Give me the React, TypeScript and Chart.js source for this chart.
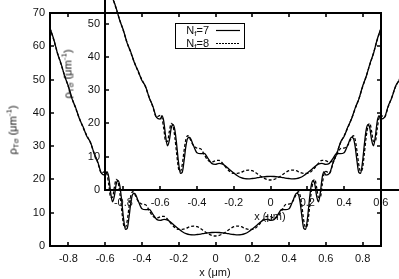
import React, { useEffect, useRef } from 'react';
import { Chart, registerables } from 'chart.js';

Chart.register(...registerables);

// positions along x (µm)
const xValues = [
  -0.90, -0.88, -0.86, -0.84, -0.82, -0.80, -0.78, -0.76, -0.74, -0.72, -0.70, -0.68, -0.66, -0.64, -0.62,
  -0.60, -0.59, -0.58, -0.57, -0.56, -0.55, -0.54, -0.53, -0.52, -0.51, -0.50, -0.49, -0.48, -0.47, -0.46, -0.45,
  -0.44, -0.42, -0.40, -0.38, -0.36, -0.34, -0.32, -0.30, -0.28, -0.26, -0.24, -0.22, -0.20, -0.18, -0.16, -0.14,
  -0.12, -0.10, -0.08, -0.06, -0.04, -0.02,
  0,
  0.02, 0.04, 0.06, 0.08, 0.10, 0.12, 0.14, 0.16, 0.18, 0.20, 0.22, 0.24, 0.26, 0.28, 0.30, 0.32, 0.34, 0.36,
  0.38, 0.40, 0.42, 0.44,
  0.45, 0.46, 0.47, 0.48, 0.49, 0.50, 0.51, 0.52, 0.53, 0.54, 0.55, 0.56, 0.57, 0.58, 0.59, 0.60,
  0.62, 0.64, 0.66, 0.68, 0.70, 0.72, 0.74, 0.76, 0.78, 0.80, 0.82, 0.84, 0.86, 0.88, 0.90,
];

// N_f = 7 (solid)
const densityN7 = [
  65.4, 62.2, 58.0, 54.8, 51.0, 48.0, 44.2, 41.5, 38.2, 35.8, 33.0, 31.2, 27.8, 25.2, 21.8,
  21.3, 22.3, 20.5, 16.0, 13.3, 15.0, 18.6, 19.6, 18.0, 13.5, 8.2, 5.0, 5.3, 8.8, 13.2, 15.6,
  15.8, 13.5, 11.2, 10.9, 11.0, 9.5, 8.0, 7.7, 8.0, 7.8, 7.0, 6.0, 5.1, 4.3, 3.7, 3.4,
  3.35, 3.45, 3.6, 3.8, 3.95, 4.05,
  4.1,
  4.05, 3.95, 3.8, 3.6, 3.45, 3.35, 3.4, 3.7, 4.3, 5.1, 6.0, 7.0, 7.8, 8.0, 7.7, 8.0, 9.5, 11.0,
  10.9, 11.2, 13.5, 15.8,
  15.6, 13.2, 8.8, 5.3, 5.0, 8.2, 13.5, 18.0, 19.6, 18.6, 15.0, 13.3, 16.0, 20.5, 22.3, 21.3,
  21.8, 25.2, 27.8, 31.2, 33.0, 35.8, 38.2, 41.5, 44.2, 48.0, 51.0, 54.8, 58.0, 62.2, 65.4,
];

// N_f = 8 (dashed)
const densityN8 = [
  65.4, 62.0, 58.1, 54.6, 51.1, 47.8, 44.3, 41.3, 38.3, 35.6, 33.2, 31.0, 27.9, 25.0, 21.9,
  22.4, 21.6, 18.3, 14.6, 14.6, 17.6, 20.0, 19.2, 15.8, 10.8, 6.4, 5.6, 7.6, 11.8, 15.2, 16.3,
  15.6, 13.4, 12.6, 12.4, 10.6, 8.9, 8.4, 8.8, 8.9, 8.0, 6.6, 5.5, 5.0, 5.0, 5.3, 5.8,
  6.0, 5.8, 5.2, 4.4, 3.7, 3.2,
  3.0,
  3.2, 3.7, 4.4, 5.2, 5.8, 6.0, 5.8, 5.3, 5.0, 5.0, 5.5, 6.6, 8.0, 8.9, 8.8, 8.4, 8.9, 10.6,
  12.4, 12.6, 13.4, 15.6,
  16.3, 15.2, 11.8, 7.6, 5.6, 6.4, 10.8, 15.8, 19.2, 20.0, 17.6, 14.6, 14.6, 18.3, 21.6, 22.4,
  21.9, 25.0, 27.9, 31.0, 33.2, 35.6, 38.3, 41.3, 44.3, 47.8, 51.1, 54.6, 58.1, 62.0, 65.4,
];

const xTickValues = [-0.8, -0.6, -0.4, -0.2, 0, 0.2, 0.4, 0.6, 0.8];
const yTickValues = [0, 10, 20, 30, 40, 50, 60, 70];
const seriesNames = ['7', '8'];

const FONT = "'Liberation Sans', Arial, Helvetica, sans-serif";
const W = 399;
const H = 279;

const framePlugin = {
  id: 'gnuFrame',
  afterDatasetsDraw(chart: any) {
    const { ctx, chartArea, scales } = chart;
    const { left, right, top, bottom } = chartArea;
    ctx.save();
    ctx.strokeStyle = '#000';
    ctx.lineWidth = 2;
    ctx.strokeRect(left, top, right - left, bottom - top);
    ctx.lineWidth = 1.6;
    const tl = 4;
    ctx.beginPath();
    xTickValues.forEach((v) => {
      const p = Math.round(scales.x.getPixelForValue(v));
      ctx.moveTo(p, bottom);
      ctx.lineTo(p, bottom - tl);
      ctx.moveTo(p, top);
      ctx.lineTo(p, top + tl);
    });
    yTickValues.forEach((v) => {
      const p = Math.round(scales.y.getPixelForValue(v));
      ctx.moveTo(left, p);
      ctx.lineTo(left + tl, p);
      ctx.moveTo(right, p);
      ctx.lineTo(right - tl, p);
    });
    ctx.stroke();
    ctx.restore();
  },
};

function Plot({ dx, dy }: { dx: number; dy: number }) {
  const ref = useRef<HTMLCanvasElement | null>(null);
  useEffect(() => {
    if (!ref.current) return;
    const tickFont = { family: FONT, size: 11 };
    const chart = new Chart(ref.current, {
      type: 'line',
      data: {
        datasets: [
          {
            label: 'Nf=' + seriesNames[0],
            data: xValues.map((x, i) => ({ x, y: densityN7[i] })),
            borderColor: '#000',
            borderWidth: 1.3,
            pointRadius: 0,
            fill: false,
            cubicInterpolationMode: 'monotone',
          },
          {
            label: 'Nf=' + seriesNames[1],
            data: xValues.map((x, i) => ({ x, y: densityN8[i] })),
            borderColor: '#000',
            borderWidth: 1.3,
            borderDash: [3, 2],
            pointRadius: 0,
            fill: false,
            cubicInterpolationMode: 'monotone',
          },
        ],
      },
      options: {
        animation: false,
        responsive: false,
        devicePixelRatio: 1,
        layout: { padding: { left: 0, top: 13, right: 18, bottom: 0 } },
        plugins: { legend: { display: false }, tooltip: { enabled: false } },
        scales: {
          x: {
            type: 'linear',
            min: -0.9,
            max: 0.9,
            afterBuildTicks: (s: any) => {
              s.ticks = xTickValues.map((v) => ({ value: v }));
            },
            afterFit: (s: any) => {
              s.height = 33;
            },
            grid: { display: false, drawTicks: false, tickLength: 0 },
            border: { display: false },
            ticks: {
              padding: 6,
              color: '#111',
              font: tickFont,
              autoSkip: false,
              maxRotation: 0,
              callback: (v: any) => String(v),
            },
          },
          y: {
            type: 'linear',
            min: 0,
            max: 70,
            afterBuildTicks: (s: any) => {
              s.ticks = yTickValues.map((v) => ({ value: v }));
            },
            afterFit: (s: any) => {
              s.width = 50;
            },
            grid: { display: false, drawTicks: false, tickLength: 0 },
            border: { display: false },
            ticks: {
              padding: 5,
              color: '#111',
              font: tickFont,
              autoSkip: false,
              callback: (v: any) => String(v),
            },
          },
        },
      },
      plugins: [framePlugin],
    } as any);
    return () => chart.destroy();
  }, []);

  const textStyle: React.CSSProperties = {
    fontFamily: FONT,
    fontSize: 11,
    color: '#111',
    lineHeight: 1,
    whiteSpace: 'nowrap',
    position: 'absolute',
  };
  const sub: React.CSSProperties = { fontSize: 8, verticalAlign: '-2px' };
  const sup: React.CSSProperties = { fontSize: 8, verticalAlign: '5px' };

  return (
    <div style={{ position: 'absolute', left: dx, top: dy, width: W, height: H }}>
      <canvas ref={ref} width={W} height={H} style={{ display: 'block', width: W, height: H }} />
      <div
        style={{
          ...textStyle,
          left: 13,
          top: 130,
          transform: 'translate(-50%, -50%) rotate(-90deg)',
        }}
      >
        ρ<span style={sub}>Tσ</span> (μm<span style={sup}>-1</span>)
      </div>
      <div style={{ ...textStyle, left: 215, top: 272, transform: 'translate(-50%, -50%)' }}>x (μm)</div>
      <div
        style={{
          position: 'absolute',
          left: 175,
          top: 23,
          width: 70,
          height: 26,
          border: '1px solid #000',
          boxSizing: 'border-box',
        }}
      >
        {seriesNames.map((n, i) => (
          <div key={n} style={{ position: 'absolute', left: 0, top: i * 13, width: 70, height: 12 }}>
            <div style={{ ...textStyle, right: 70 - 33, top: 1 }}>
              N<span style={sub}>f</span>={n}
            </div>
            <svg width={24} height={12} style={{ position: 'absolute', left: 40, top: 0 }}>
              <line
                x1={0}
                y1={6.5}
                x2={24}
                y2={6.5}
                stroke="#000"
                strokeWidth={1.2}
                strokeDasharray={i === 1 ? '2 1' : undefined}
              />
            </svg>
          </div>
        ))}
      </div>
    </div>
  );
}

export default function App() {
  return (
    <div
      style={{
        position: 'fixed',
        left: 0,
        top: 0,
        width: W,
        height: H,
        overflow: 'hidden',
        background: '#fff',
      }}
    >
      <Plot dx={0} dy={0} />
      <Plot dx={55} dy={-56} />
    </div>
  );
}
